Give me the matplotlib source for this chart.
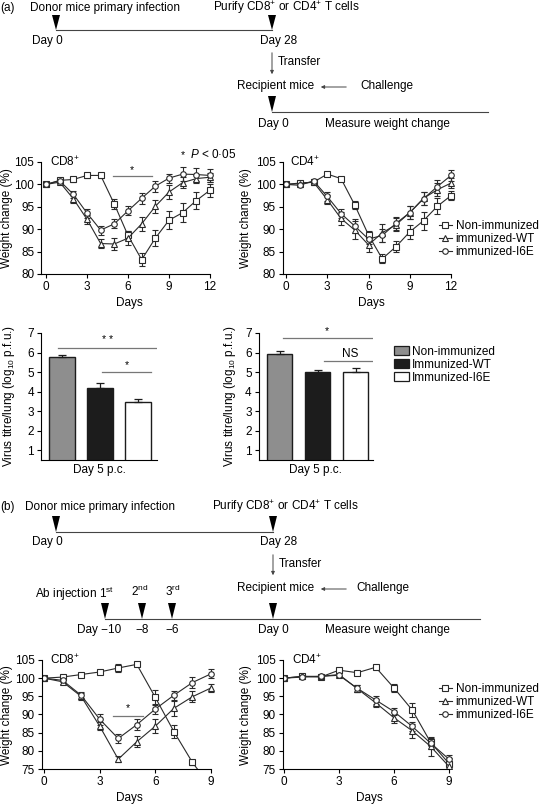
import matplotlib
matplotlib.use("Agg")
import matplotlib.pyplot as plt
from matplotlib.patches import Polygon
from matplotlib.lines import Line2D
from matplotlib.patches import Patch
import numpy as np

plt.rcParams['font.family'] = ['Liberation Sans', 'DejaVu Sans']
plt.rcParams['mathtext.fontset'] = 'custom'
plt.rcParams['mathtext.rm'] = 'Liberation Sans'
plt.rcParams['mathtext.it'] = 'Liberation Sans:italic'
plt.rcParams['font.size'] = 8.5

W, H = 545, 808
FS = 8.5

# ---- data: panel (a) weight change, days 0..12
days_a = np.arange(13)
a8_non = [100, 100.9, 101.1, 102.0, 102.0, 95.6, 88.6, 83.2, 88.0, 92.0, 93.7, 96.4, 98.7]
a8_non_e = [0.3, 0.5, 0.5, 0.6, 0.5, 1.2, 1.0, 1.5, 1.8, 2.0, 2.2, 1.8, 1.5]
a8_wt = [100, 100.5, 96.8, 92.2, 86.8, 86.7, 88.0, 91.2, 95.1, 98.3, 100.4, 101.3, 101.6]
a8_wt_e = [0.3, 0.4, 1.0, 1.0, 1.0, 1.3, 1.5, 1.5, 1.5, 1.5, 1.2, 1.0, 1.0]
a8_i6e = [100, 100.8, 97.8, 93.6, 89.8, 91.2, 94.1, 96.9, 99.6, 101.4, 102.3, 102.2, 102.0]
a8_i6e_e = [0.3, 0.4, 0.8, 1.0, 1.0, 1.0, 1.0, 1.2, 1.2, 1.0, 1.5, 1.5, 1.5]

a4_non = [100, 100.3, 100.5, 102.3, 101.3, 95.4, 88.7, 83.4, 86.1, 89.4, 91.9, 95.1, 97.5]
a4_non_e = [0.3, 0.4, 0.4, 0.5, 0.4, 1.0, 1.0, 1.0, 1.3, 1.5, 2.0, 1.8, 1.0]
a4_wt = [100, 100.2, 100.5, 96.6, 92.4, 89.8, 86.5, 89.2, 91.0, 93.7, 96.9, 98.8, 100.3]
a4_wt_e = [0.3, 0.5, 0.5, 1.0, 1.5, 2.0, 1.5, 2.0, 1.5, 1.5, 1.5, 1.5, 1.2]
a4_i6e = [100, 99.8, 100.8, 97.3, 93.5, 90.7, 87.8, 88.6, 91.3, 93.7, 96.8, 99.5, 102.0]
a4_i6e_e = [0.3, 0.4, 0.5, 1.0, 1.0, 1.5, 1.0, 1.5, 1.5, 1.5, 1.5, 1.5, 1.3]

# ---- panel (a) virus titres, day 5 p.c.
groups = ['Non-immunized', 'Immunized-WT', 'Immunized-I6E']
titre_cd8 = [5.75, 4.2, 3.45]
titre_cd8_e = [0.12, 0.22, 0.18]
titre_cd4 = [5.95, 5.0, 5.0]
titre_cd4_e = [0.15, 0.12, 0.22]

# ---- panel (b) weight change, days 0..9
days_b = np.arange(10)
b8_non = [100, 100.3, 101.0, 101.7, 102.8, 103.8, 94.7, 85.3, 76.8, 70.0]
b8_non_e = [0.3, 0.4, 0.4, 0.4, 1.0, 0.5, 2.0, 1.8, 0.8, 0.0]
b8_wt = [100, 99.0, 95.0, 86.8, 77.7, 82.5, 86.8, 91.7, 94.9, 97.3]
b8_wt_e = [0.3, 0.5, 1.0, 1.0, 0.8, 1.5, 2.0, 2.0, 1.5, 1.2]
b8_i6e = [100, 99.4, 95.3, 88.7, 83.4, 87.2, 91.5, 95.3, 98.8, 101.2]
b8_i6e_e = [0.3, 0.5, 1.0, 1.5, 1.2, 1.5, 1.5, 1.2, 1.5, 1.2]

b4_non = [100, 100.5, 100.3, 102.2, 101.5, 103.0, 97.3, 91.2, 82.3, 76.5]
b4_non_e = [0.3, 0.3, 0.4, 0.4, 0.4, 0.4, 1.2, 2.0, 1.0, 1.5]
b4_wt = [100, 100.5, 100.5, 101.0, 97.1, 93.2, 89.1, 85.5, 81.2, 75.7]
b4_wt_e = [0.3, 0.3, 0.5, 0.5, 1.0, 1.2, 1.5, 2.0, 2.5, 1.5]
b4_i6e = [100, 100.3, 100.5, 100.8, 97.2, 94.0, 90.8, 86.7, 82.1, 77.7]
b4_i6e_e = [0.3, 0.3, 0.5, 0.5, 1.0, 1.0, 1.0, 1.2, 1.5, 1.2]

line_labels = ['Non-immunized', 'immunized-WT', 'immunized-I6E']
markers = ['s', '^', 'o']
bar_colors = ['#8e8e8e', '#1c1c1c', 'white']

fig = plt.figure(figsize=(W / 100, H / 100), dpi=100)

# overlay for diagrams and free text, in pixel coordinates
ov = fig.add_axes([0, 0, 1, 1], zorder=-1)
ov.set_xlim(0, W)
ov.set_ylim(H, 0)
ov.axis('off')


def place(x0px, x1px, xv0, xv1, y0px, y1px, yv0, yv1, xlim, ylim):
    # x0px/x1px: pixel positions of data values xv0/xv1 (same for y)
    sx = (x1px - x0px) / (xv1 - xv0)
    sy = (y1px - y0px) / (yv1 - yv0)
    left = x0px + (xlim[0] - xv0) * sx
    right = x0px + (xlim[1] - xv0) * sx
    bottom = y0px + (ylim[0] - yv0) * sy
    top = y0px + (ylim[1] - yv0) * sy
    ax = fig.add_axes([left / W, 1 - bottom / H, (right - left) / W, (bottom - top) / H])
    ax.set_xlim(*xlim)
    ax.set_ylim(*ylim)
    return ax


def prism(ax):
    for s in ['top', 'right']:
        ax.spines[s].set_visible(False)
    for s in ['left', 'bottom']:
        ax.spines[s].set_linewidth(0.8)
    ax.tick_params(direction='out', length=3, width=0.8, pad=2, labelsize=FS)
    ax.patch.set_alpha(0)


def weight_plot(ax, days, series, errs, xticks, yticks):
    prism(ax)
    for y, e, m in zip(series, errs, markers):
        ax.errorbar(days, y, yerr=e, color='#2a2a2a', lw=0.8, marker=m, ms=4,
                    mfc='white', mec='#2a2a2a', mew=0.8, capsize=2, elinewidth=0.8,
                    capthick=0.8)
    ax.set_xticks(xticks)
    ax.set_yticks(yticks)
    ax.spines['bottom'].set_bounds(ax.get_xlim()[0], xticks[-1])
    ax.spines['left'].set_bounds(yticks[0], yticks[-1])
    ax.set_xlabel('Days', fontsize=FS, labelpad=3)


def bar_plot(ax, vals, errs):
    prism(ax)
    x = np.arange(len(vals))
    ax.bar(x, vals, width=0.68, bottom=0, color=bar_colors, edgecolor='#1c1c1c', lw=1.0)
    ax.errorbar(x, vals, yerr=[np.zeros(len(errs)), errs], fmt='none', ecolor='#1c1c1c',
                elinewidth=0.9, capsize=3, capthick=0.9)
    ax.set_xticks([])
    ax.set_yticks(range(1, 8))
    ax.spines['left'].set_bounds(0.5, 7)
    ax.set_xlabel('Day 5 p.c.', fontsize=FS, labelpad=3)


def timeline_tri(x, ytop, ytip):
    ov.add_patch(Polygon([(x - 4, ytop), (x + 4, ytop), (x, ytip)], closed=True,
                         color='black', lw=0))


def txt(x, y, s, **kw):
    kw.setdefault('va', 'center')
    kw.setdefault('fontsize', FS)
    ov.text(x, y, s, **kw)


def arrow(x0, y0, x1, y1):
    ov.annotate('', xy=(x1, y1), xytext=(x0, y0),
                arrowprops=dict(arrowstyle='-|>', color='#444444', lw=0.7, mutation_scale=5))


# ================= panel (a) timeline
txt(0, 8, '(a)')
txt(30, 8, 'Donor mice primary infection')
txt(213, 8, 'Purify CD8$^{+}$ or CD4$^{+}$ T cells')
ov.plot([56, 272], [30, 30], color='#444444', lw=0.8)
timeline_tri(56, 15, 30)
timeline_tri(272, 15, 30)
txt(32, 41, 'Day 0')
txt(260, 41, 'Day 28')
arrow(272, 50, 272, 77)
txt(278, 62, 'Transfer')
txt(237, 86, 'Recipient mice')
arrow(349, 87, 318, 87)
txt(360, 86, 'Challenge')
ov.plot([272, 488], [112, 112], color='#444444', lw=0.8)
timeline_tri(272, 96, 112)
txt(258, 124, 'Day 0')
txt(325, 124, 'Measure weight change')

# ================= panel (a) weight change
ax1 = place(46, 210, 0, 12, 274, 162, 80, 105, (-0.35, 12.6), (80, 105.3))
weight_plot(ax1, days_a, [a8_non, a8_wt, a8_i6e], [a8_non_e, a8_wt_e, a8_i6e_e],
            [0, 3, 6, 9, 12], [80, 85, 90, 95, 100, 105])
ax1.plot([4.9, 7.75], [101.9, 101.9], color='#777777', lw=0.9)
ax1.text(6.3, 103.3, '*', ha='center', va='center', fontsize=7.5)
txt(50, 162, 'CD8$^{+}$')
txt(181, 155, '*', fontsize=7.5)
txt(190, 155, '$P$ < 0·05')
txt(7, 218, 'Weight change (%)', rotation=90, ha='center')

ax2 = place(286, 451, 0, 12, 274, 162, 80, 105, (-0.25, 12.6), (80, 105.3))
weight_plot(ax2, days_a, [a4_non, a4_wt, a4_i6e], [a4_non_e, a4_wt_e, a4_i6e_e],
            [0, 3, 6, 9, 12], [80, 85, 90, 95, 100, 105])
txt(290, 162, 'CD4$^{+}$')
txt(246, 218, 'Weight change (%)', rotation=90, ha='center')

line_handles = [Line2D([], [], color='#2a2a2a', lw=0.8, marker=m, ms=4, mfc='white',
                       mec='#2a2a2a', mew=0.8) for m in markers]
fig.legend(line_handles, line_labels, loc='upper left', bbox_to_anchor=(439 / W, 1 - 220 / H),
           frameon=False, fontsize=FS, handlelength=1.1, handletextpad=0.3,
           labelspacing=0.1, borderpad=0, borderaxespad=0)

# ================= panel (a) virus titres
ax3 = place(62, 100, 0, 1, 460, 333, 0.5, 7, (-0.55, 2.5), (0.5, 7))
bar_plot(ax3, titre_cd8, titre_cd8_e)
ax3.plot([-0.1, 2.5], [6.25, 6.25], color='#777777', lw=0.9)
ax3.text(1.2, 6.65, '* *', ha='center', va='center', fontsize=7.5)
ax3.plot([1.05, 2.35], [5.0, 5.0], color='#777777', lw=0.9)
ax3.text(1.7, 5.35, '*', ha='center', va='center', fontsize=7.5)
txt(9, 396, 'Virus titre/lung (log$_{10}$ p.f.u.)', rotation=90, ha='center')

ax4 = place(279.5, 317.5, 0, 1, 460, 333, 0.5, 7, (-0.55, 2.45), (0.5, 7))
bar_plot(ax4, titre_cd4, titre_cd4_e)
ax4.plot([0.1, 2.7], [6.72, 6.72], color='#777777', lw=0.9)
ax4.text(1.25, 7.1, '*', ha='center', va='center', fontsize=7.5)
ax4.plot([1.17, 2.55], [5.55, 5.55], color='#777777', lw=0.9)
ax4.text(1.86, 5.95, 'NS', ha='center', va='center', fontsize=FS)
txt(230, 396, 'Virus titre/lung (log$_{10}$ p.f.u.)', rotation=90, ha='center')

bar_handles = [Patch(facecolor=c, edgecolor='#1c1c1c', lw=0.9) for c in bar_colors]
fig.legend(bar_handles, groups, loc='upper left', bbox_to_anchor=(394 / W, 1 - 346 / H),
           frameon=False, fontsize=FS, handlelength=1.3, handleheight=0.8,
           handletextpad=0.25, labelspacing=0.08, borderpad=0, borderaxespad=0)

# ================= panel (b) timeline
txt(0, 507, '(b)')
txt(25, 507, 'Donor mice primary infection')
txt(212, 507, 'Purify CD8$^{+}$ or CD4$^{+}$ T cells')
ov.plot([56, 273], [532, 532], color='#444444', lw=0.8)
timeline_tri(56, 516, 532)
timeline_tri(273, 516, 532)
txt(32, 542, 'Day 0')
txt(260, 542, 'Day 28')
arrow(273, 552, 273, 578)
txt(279, 564, 'Transfer')
txt(237, 588, 'Recipient mice')
arrow(349, 589, 318, 589)
txt(356, 588, 'Challenge')
txt(35, 594, 'Ab injection 1$^{\\mathrm{st}}$')
txt(131, 591, '2$^{\\mathrm{nd}}$')
txt(165, 591, '3$^{\\mathrm{rd}}$')
ov.plot([105, 480], [619, 619], color='#444444', lw=0.8)
for xp in [105, 142, 172, 273]:
    timeline_tri(xp, 603, 619)
txt(77, 630, 'Day \u221210')
txt(142, 630, '\u22128', ha='center')
txt(172, 630, '\u22126', ha='center')
txt(258, 630, 'Day 0')
txt(325, 630, 'Measure weight change')

# ================= panel (b) weight change
ax5 = place(44, 211, 0, 9, 769, 660, 75, 105, (-0.12, 9.35), (75, 105.3))
weight_plot(ax5, days_b, [b8_non, b8_wt, b8_i6e], [b8_non_e, b8_wt_e, b8_i6e_e],
            [0, 3, 6, 9], [75, 80, 85, 90, 95, 100, 105])
ax5.plot([3.73, 5.35], [89.7, 89.7], color='#777777', lw=0.9)
ax5.text(4.5, 91.8, '*', ha='center', va='center', fontsize=7.5)
txt(50, 660, 'CD8$^{+}$')
txt(7, 715, 'Weight change (%)', rotation=90, ha='center')

ax6 = place(284, 449, 0, 9, 769, 660, 75, 105, (-0.08, 9.35), (75, 105.3))
weight_plot(ax6, days_b, [b4_non, b4_wt, b4_i6e], [b4_non_e, b4_wt_e, b4_i6e_e],
            [0, 3, 6, 9], [75, 80, 85, 90, 95, 100, 105])
txt(292, 660, 'CD4$^{+}$')
txt(246, 715, 'Weight change (%)', rotation=90, ha='center')

fig.legend(line_handles, line_labels, loc='upper left', bbox_to_anchor=(439 / W, 1 - 683 / H),
           frameon=False, fontsize=FS, handlelength=1.1, handletextpad=0.3,
           labelspacing=0.1, borderpad=0, borderaxespad=0)

fig.savefig('out.png', dpi=100)
